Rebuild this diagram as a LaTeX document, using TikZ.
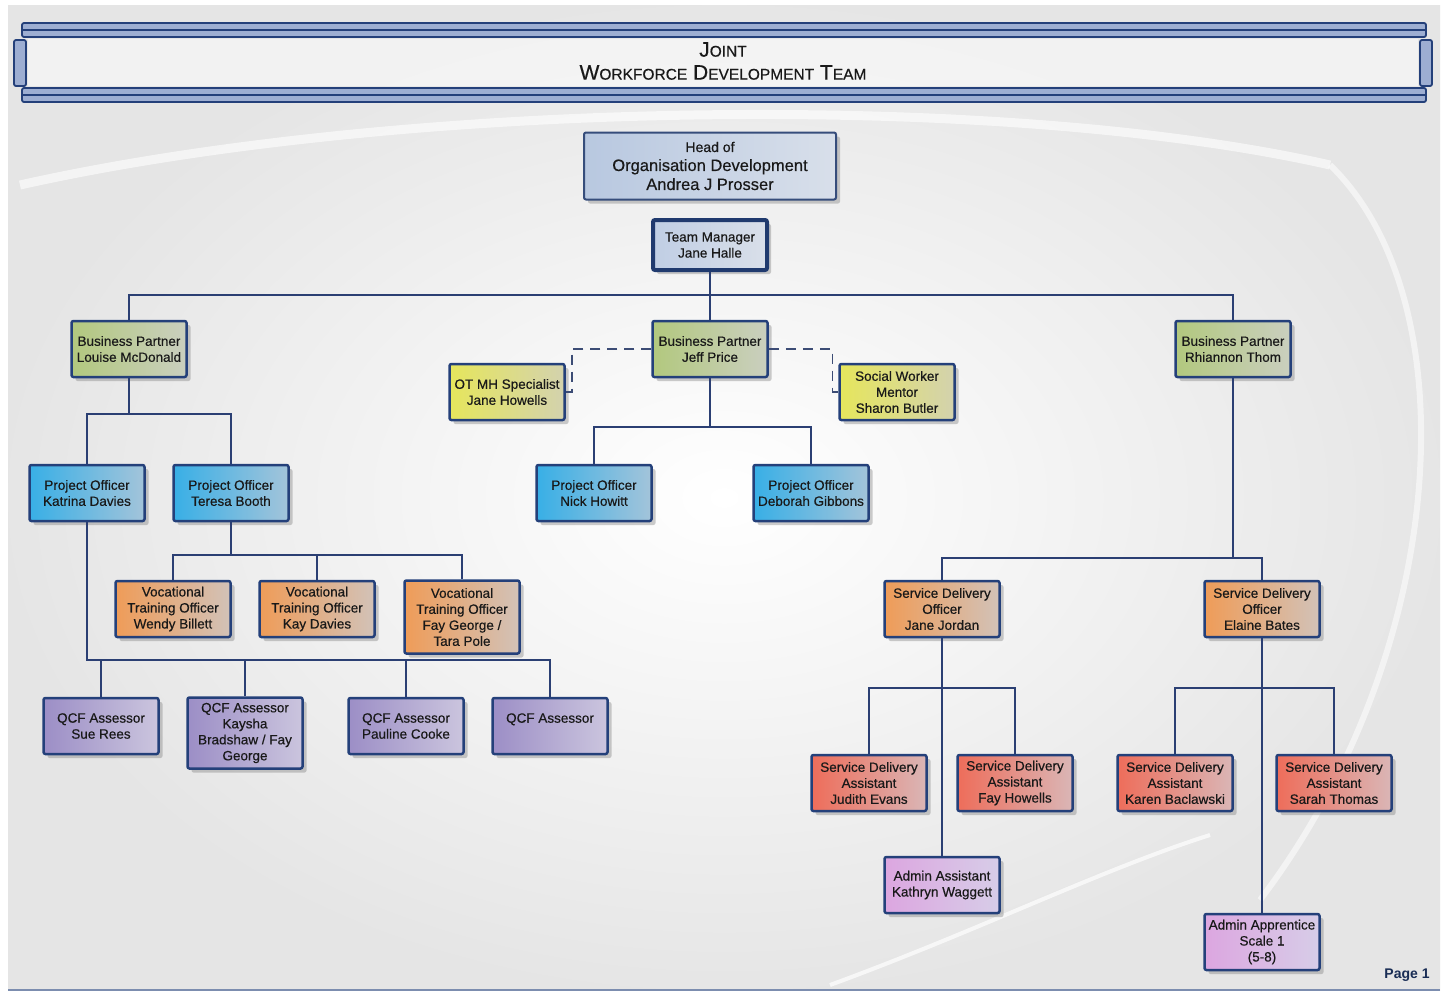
\documentclass[tikz,border=0pt]{standalone}
\usepackage{fontspec}
\setmainfont{Liberation Sans}
\newfontfamily\boxfont[FakeBold=0.45]{Liberation Sans}
\usetikzlibrary{shadows}

\definecolor{navy}{HTML}{24407A}
\definecolor{wirecol}{HTML}{2B3F73}
\definecolor{bandfill}{HTML}{9DAED2}

\newcommand\capsc[2]{{\fontsize{21}{23}\selectfont#1}{\fontsize{15.5}{23}\selectfont#2}}

\tikzset{
  post/.style={draw=navy, line width=2.5pt, rounded corners=2pt, align=center,
    minimum width=115pt, minimum height=56pt, inner sep=2pt, text=black!90,
    font=\boxfont\fontsize{13.5}{16}\selectfont,
    drop shadow={shadow xshift=4pt, shadow yshift=-4pt, fill=black!50, opacity=.4}},
  headbox/.style={post, line width=2pt, draw=navy!80!gray, minimum width=252pt,
    minimum height=67pt, font=\boxfont\fontsize{16.5}{19}\selectfont,
    left color=HTML-B8C8E0, right color=HTML-D8DFEA},
  tmbox/.style={post, line width=4pt, draw=navy!90!black, minimum width=114pt,
    minimum height=50pt, left color=HTML-C0CEE4, right color=HTML-D9DFE9},
  bpbox/.style={post, left color=HTML-B2C87E, right color=HTML-CACFBF},
  ylbox/.style={post, left color=HTML-E6E65C, right color=HTML-D3D2AE},
  pobox/.style={post, left color=HTML-38AFE6, right color=HTML-A3C4DA},
  orbox/.style={post, left color=HTML-EF9C58, right color=HTML-D2C2B8},
  qcbox/.style={post, left color=HTML-9C8EC6, right color=HTML-CBC5DE},
  sdbox/.style={post, left color=HTML-EE6D5A, right color=HTML-DAB6B6},
  adbox/.style={post, left color=HTML-DCA6E0, right color=HTML-D7CDE8},
  wire/.style={draw=wirecol, line width=1.6pt},
  dashwire/.style={draw=wirecol!80!gray, line width=1.5pt, dash pattern=on 10pt off 7pt},
  band/.style={draw=navy, fill=bandfill, line width=1.8pt, rounded corners=2pt},
}

\begin{document}
\begin{tikzpicture}[x=1pt,y=-1pt]
\definecolor{HTML-B8C8E0}{HTML}{B8C8E0}\definecolor{HTML-D8DFEA}{HTML}{D8DFEA}
\definecolor{HTML-C0CEE4}{HTML}{C0CEE4}\definecolor{HTML-D9DFE9}{HTML}{D9DFE9}
\definecolor{HTML-B2C87E}{HTML}{B2C87E}\definecolor{HTML-CACFBF}{HTML}{CACFBF}
\definecolor{HTML-E6E65C}{HTML}{E6E65C}\definecolor{HTML-D3D2AE}{HTML}{D3D2AE}
\definecolor{HTML-38AFE6}{HTML}{38AFE6}\definecolor{HTML-A3C4DA}{HTML}{A3C4DA}
\definecolor{HTML-EF9C58}{HTML}{EF9C58}\definecolor{HTML-D2C2B8}{HTML}{D2C2B8}
\definecolor{HTML-9C8EC6}{HTML}{9C8EC6}\definecolor{HTML-CBC5DE}{HTML}{CBC5DE}
\definecolor{HTML-EE6D5A}{HTML}{EE6D5A}\definecolor{HTML-DAB6B6}{HTML}{DAB6B6}
\definecolor{HTML-DCA6E0}{HTML}{DCA6E0}\definecolor{HTML-D7CDE8}{HTML}{D7CDE8}
\useasboundingbox (0,0) rectangle (1445,993);
\fill[white] (0,0) rectangle (1445,993);
\shade[inner color=white, outer color=black!10] (8,5) rectangle (1440,990);
\draw[white, line width=9pt, opacity=.6] (20,185) .. controls (400,100) and (1000,90) .. (1330,165);
\draw[white, line width=6pt, opacity=.55] (1330,165) .. controls (1470,300) and (1450,650) .. (1260,900);
\draw[white, line width=4pt, opacity=.7] (830,985) .. controls (980,930) and (1100,870) .. (1210,835);
\draw[navy!60, line width=1.5pt] (8,990) -- (1440,990);

% title banner
\draw[band] (14,40) rectangle (26,86);
\draw[band] (1420,40) rectangle (1432,86);
\draw[band] (22,23) rectangle (1426,37);
\draw[navy, line width=1.4pt] (22,30) -- (1426,30);
\draw[band] (22,88) rectangle (1426,102);
\draw[navy, line width=1.4pt] (22,95) -- (1426,95);
\fill[white, opacity=.5] (28,39) rectangle (1418,86);
\node[align=center, text=black!90, font=\boxfont\fontsize{21}{23}\selectfont] (title) at (723,61)
  {\capsc{J}{OINT}\\\capsc{W}{ORKFORCE} \capsc{D}{EVELOPMENT} \capsc{T}{EAM}};

\node[headbox] (head) at (710,166) {{\fontsize{14}{19}\selectfont Head of}\\Organisation Development\\Andrea J Prosser};
\node[tmbox] (tm) at (710,245) {Team Manager\\Jane Halle};

\node[bpbox] (louise) at (129,349) {Business Partner\\Louise McDonald};
\node[bpbox] (jeff) at (710,349) {Business Partner\\Jeff Price};
\node[bpbox] (rhiannon) at (1233,349) {Business Partner\\Rhiannon Thom};
\node[ylbox] (ot) at (507,392) {OT MH Specialist\\Jane Howells};
\node[ylbox] (sw) at (897,392) {Social Worker\\Mentor\\Sharon Butler};

\node[pobox] (katrina) at (87,493) {Project Officer\\Katrina Davies};
\node[pobox] (teresa) at (231,493) {Project Officer\\Teresa Booth};
\node[pobox] (nick) at (594,493) {Project Officer\\Nick Howitt};
\node[pobox] (deborah) at (811,493) {Project Officer\\Deborah Gibbons};

\node[orbox] (wendy) at (173,609) {Vocational\\Training Officer\\Wendy Billett};
\node[orbox] (kay) at (317,609) {Vocational\\Training Officer\\Kay Davies};
\node[orbox, minimum height=73pt] (fay) at (462,617) {Vocational\\Training Officer\\Fay George /\\Tara Pole};

\node[qcbox] (qcf1) at (101,726) {QCF Assessor\\Sue Rees};
\node[qcbox, minimum height=71pt] (qcf2) at (245,733) {QCF Assessor\\Kaysha\\Bradshaw / Fay\\George};
\node[qcbox] (qcf3) at (406,726) {QCF Assessor\\Pauline Cooke};
\node[qcbox] (qcf4) at (550,726) {QCF Assessor\\\mbox{}};

\node[orbox] (sdoj) at (942,609) {Service Delivery\\Officer\\Jane Jordan};
\node[orbox] (sdoe) at (1262,609) {Service Delivery\\Officer\\Elaine Bates};
\node[sdbox] (judith) at (869,783) {Service Delivery\\Assistant\\Judith Evans};
\node[sdbox] (fayh) at (1015,783) {Service Delivery\\Assistant\\Fay Howells};
\node[sdbox] (karen) at (1175,783) {Service Delivery\\Assistant\\Karen Baclawski};
\node[sdbox] (sarah) at (1334,783) {Service Delivery\\Assistant\\Sarah Thomas};
\node[adbox] (aa) at (942,885) {Admin Assistant\\Kathryn Waggett};
\node[adbox] (app) at (1262,942) {Admin Apprentice\\Scale 1\\(5-8)};

\draw[wire] (tm.south) -- (jeff.north);
\draw[wire] (louise.north) -- ++(0,-25) -| (rhiannon.north);
\draw[wire] (louise.south) -- ++(0,36) coordinate (lbus) -| (katrina.north);
\draw[wire] (lbus) -| (teresa.north);
\draw[wire] (teresa.south) -- ++(0,33) coordinate (vbus) -| (wendy.north);
\draw[wire] (vbus) -| (fay.north);
\draw[wire] (kay.north) -- (kay.north |- vbus);
\draw[wire] (katrina.south) -- ++(0,138) coordinate (qbus) -| (qcf4.north);
\foreach \q in {qcf1,qcf2,qcf3}
  \draw[wire] (\q.north) -- (\q.north |- qbus);

\draw[wire] (jeff.south) -- ++(0,49) coordinate (jbus) -| (nick.north);
\draw[wire] (jbus) -| (deborah.north);
\draw[dashwire] (jeff.west) -| ([xshift=6pt]ot.east) -- (ot.east);
\draw[dashwire] (jeff.east) -| ([xshift=-6pt]sw.west) -- (sw.west);

\draw[wire] (rhiannon.south) -- ++(0,180) coordinate (rbus) -| (sdoj.north);
\draw[wire] (rbus) -| (sdoe.north);
\draw[wire] (sdoj.south) -- (aa.north);
\draw[wire] (judith.north) |- ([yshift=-50pt]sdoj.south) -| (fayh.north);
\draw[wire] (sdoe.south) -- (app.north);
\draw[wire] (karen.north) |- ([yshift=-50pt]sdoe.south) -| (sarah.north);

\node[font=\bfseries\fontsize{14}{16}\selectfont, text=navy!70!black] (page) at (1407,975) {Page 1};
\end{tikzpicture}
\end{document}
